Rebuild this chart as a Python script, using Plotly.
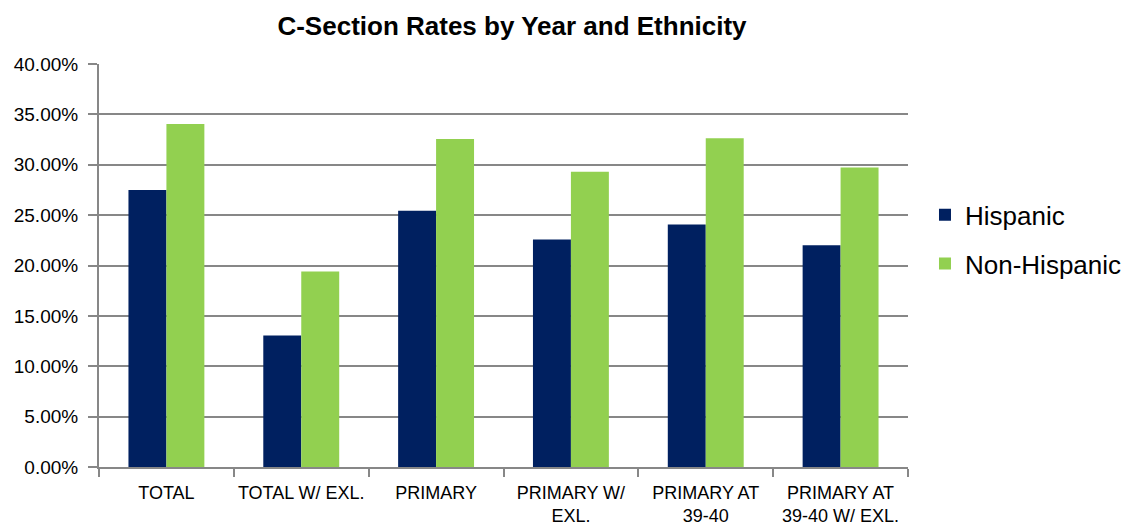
import plotly.graph_objects as go

categories = ["TOTAL", "TOTAL W/ EXL.", "PRIMARY", "PRIMARY W/<br>EXL.",
              "PRIMARY AT<br>39-40", "PRIMARY AT<br>39-40 W/ EXL."]
hispanic = [0.275, 0.1305, 0.2543, 0.2259, 0.2407, 0.2200]
non_hispanic = [0.3404, 0.1940, 0.3255, 0.2930, 0.3264, 0.2973]
y_ticks = [0, 0.05, 0.10, 0.15, 0.20, 0.25, 0.30, 0.35, 0.40]

FONT = "Liberation Sans, Arial, sans-serif"
GRID = "#878787"

fig = go.Figure()
fig.add_trace(go.Bar(x=categories, y=hispanic, name="Hispanic",
                     marker=dict(color="#002060", line=dict(width=0)),
                     legendgroup="a"))
fig.add_trace(go.Bar(x=categories, y=non_hispanic, name="Non-Hispanic",
                     marker=dict(color="#92D050", line=dict(width=0)),
                     legendgroup="b"))

fig.update_layout(
    width=1131, height=527,
    margin=dict(l=99, r=223, t=64, b=60, autoexpand=False),
    paper_bgcolor="white", plot_bgcolor="white",
    barmode="group", bargap=0.437, bargroupgap=0,
    title=dict(text="<b>C-Section Rates by Year and Ethnicity</b>",
               x=512 / 1131, xanchor="center", y=0.95, yanchor="middle",
               font=dict(family=FONT, size=26, color="black")),
    font=dict(family=FONT, color="black"),
    legend=dict(x=1.021, xanchor="left", y=0.565, yanchor="middle",
                font=dict(family=FONT, size=26, color="black"),
                tracegroupgap=12, itemsizing="constant"),
    xaxis=dict(showline=True, linecolor=GRID, linewidth=2,
               ticks="outside", tickson="boundaries", ticklen=8,
               tickcolor=GRID, tickwidth=1.5, ticklabelstandoff=8,
               tickangle=0, automargin=False,
               tickfont=dict(family=FONT, size=18, color="black"),
               showgrid=False),
    yaxis=dict(range=[0, 0.40], tickvals=y_ticks, tickformat=".2%",
               showline=True, linecolor=GRID, linewidth=2,
               ticks="outside", ticklen=9, tickcolor=GRID, tickwidth=1.5,
               ticklabelstandoff=6, automargin=False,
               showgrid=True, gridcolor=GRID, gridwidth=1.5,
               tickfont=dict(family=FONT, size=19, color="black"),
               zeroline=False),
)

fig.write_html("out.html")
